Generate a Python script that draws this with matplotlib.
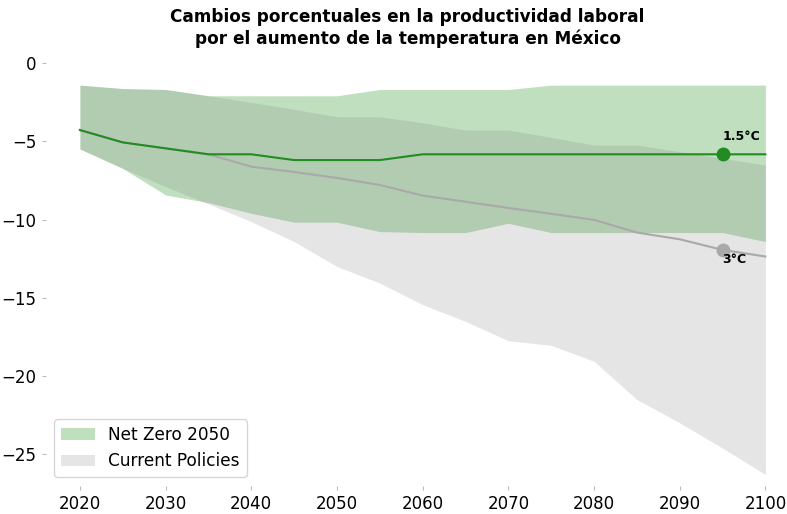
import numpy as np
import matplotlib.pyplot as plt

# años cada 5
years = list(range(2020, 2101, 5))

# Net Zero 2050 (1.5°C)
nz_mid = [-4.27, -5.06, -5.44, -5.82, -5.82, -6.19, -6.19, -6.19, -5.82, -5.82,
          -5.82, -5.82, -5.82, -5.82, -5.82, -5.82, -5.82]
nz_upper = [-1.40, -1.62, -1.68, -2.08, -2.08, -2.08, -2.08, -1.68, -1.68, -1.68,
            -1.68, -1.40, -1.40, -1.40, -1.40, -1.40, -1.40]
nz_lower = [-5.48, -6.72, -8.42, -8.91, -9.59, -10.16, -10.16, -10.76, -10.82, -10.82,
            -10.23, -10.82, -10.82, -10.82, -10.82, -10.82, -11.40]

# Current Policies (3°C)
cp_mid = [-4.27, -5.06, -5.44, -5.82, -6.61, -6.95, -7.33, -7.78, -8.46, -8.85,
          -9.25, -9.62, -10.01, -10.82, -11.25, -11.93, -12.35]
cp_upper = [-1.40, -1.62, -1.68, -2.08, -2.50, -2.95, -3.42, -3.42, -3.81, -4.27,
            -4.27, -4.74, -5.23, -5.23, -5.65, -6.08, -6.51]
cp_lower = [-5.48, -6.72, -7.88, -8.99, -10.12, -11.40, -12.99, -14.05, -15.43, -16.50,
            -17.73, -18.03, -19.05, -21.49, -22.98, -24.60, -26.28]

label_year = 2095

fig = plt.figure(figsize=(7.87, 5.14), dpi=100)
ax = fig.add_axes([0.058, 0.055, 0.92, 0.822])

ax.fill_between(years, nz_lower, nz_upper, color='green', alpha=0.25,
                linewidth=0, label='Net Zero 2050')
ax.fill_between(years, cp_lower, cp_upper, color='gray', alpha=0.2,
                linewidth=0, label='Current Policies')
ax.plot(years, cp_mid, color='darkgray', linewidth=1.5)
ax.plot(years, nz_mid, color='forestgreen', linewidth=1.5)

i = years.index(label_year)
ax.plot(label_year, nz_mid[i], 'o', color='forestgreen', markersize=9)
ax.plot(label_year, cp_mid[i], 'o', color='darkgray', markersize=9)
ax.annotate('1.5°C', (label_year, nz_mid[i]), xytext=(0, 8), textcoords='offset points',
            fontsize=9, fontweight='bold', ha='left', va='bottom')
ax.annotate('3°C', (label_year, cp_mid[i]), xytext=(0, -2), textcoords='offset points',
            fontsize=9, fontweight='bold', ha='left', va='top')

ax.set_xlim(2016, 2100.5)
ax.set_ylim(-27, 0)
ax.set_xticks(range(2020, 2101, 10))
ax.set_yticks([0, -5, -10, -15, -20, -25])
ax.tick_params(labelsize=12, color='#bbbbbb', length=3)
for s in ax.spines.values():
    s.set_visible(False)

ax.set_title('Cambios porcentuales en la productividad laboral\n'
             'por el aumento de la temperatura en México',
             fontsize=12.2, fontweight='bold', pad=14)
ax.legend(loc='lower left', fontsize=12.2, bbox_to_anchor=(0.0, 0.0))

fig.savefig('out.png', dpi=100)
